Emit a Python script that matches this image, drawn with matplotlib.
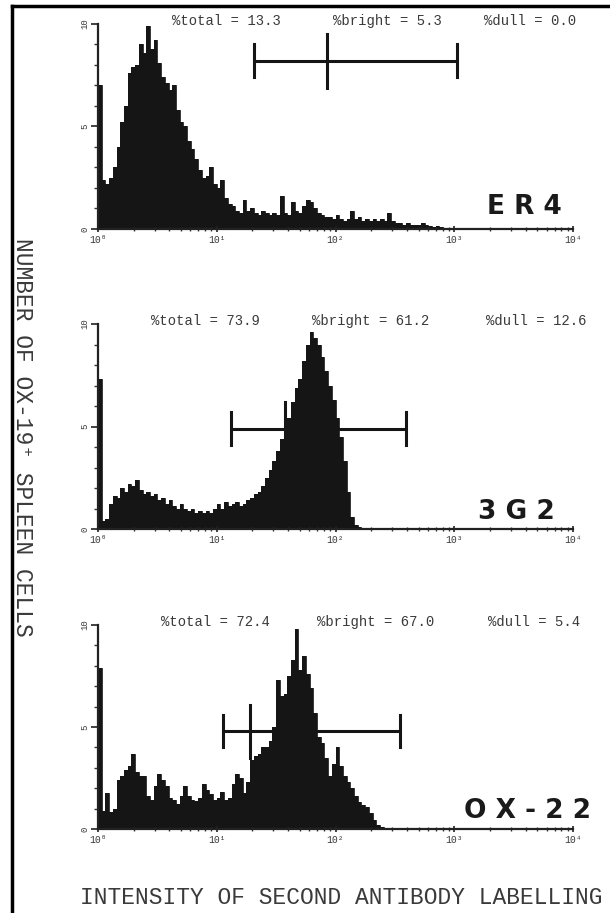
import numpy as np
import matplotlib
matplotlib.use("Agg")
import matplotlib.pyplot as plt
from matplotlib.lines import Line2D
from matplotlib.ticker import MultipleLocator, LogLocator, NullFormatter

plt.rcParams['font.family'] = ['Liberation Mono', 'DejaVu Sans Mono']

# channels per decade of the log amplifier
BINS_PER_DECADE = 32

# cell counts per channel, starting at 10^0
er4_counts = [
    7.0, 2.4, 2.2, 2.5, 3.0, 4.0, 5.2, 6.0, 7.6, 7.9,
    8.0, 9.0, 8.6, 9.9, 8.8, 9.2, 8.1, 7.4, 7.1, 6.8,
    7.0, 5.8, 5.2, 5.0, 4.3, 3.9, 3.4, 2.9, 2.5, 2.6,
    3.0, 2.2, 2.0, 2.4, 1.5, 1.2, 1.1, 0.9, 0.8, 1.4,
    0.9, 1.0, 0.8, 0.7, 0.9, 0.8, 0.7, 0.8, 0.7, 1.6,
    0.8, 0.7, 1.3, 0.9, 0.8, 1.1, 1.4, 1.3, 1.0, 0.8,
    0.7, 0.6, 0.6, 0.5, 0.7, 0.5, 0.4, 0.5, 0.9, 0.5,
    0.6, 0.4, 0.5, 0.4, 0.5, 0.4, 0.5, 0.4, 0.8, 0.4,
    0.3, 0.3, 0.2, 0.3, 0.2, 0.2, 0.2, 0.3, 0.2, 0.15,
    0.1, 0.15, 0.1, 0.05,
]
g32_counts = [
    7.3, 0.4, 0.5, 1.2, 1.6, 1.5, 2.0, 1.8, 2.2, 2.1,
    2.4, 1.9, 1.7, 1.8, 1.6, 1.7, 1.4, 1.5, 1.2, 1.4,
    1.1, 1.0, 1.2, 1.0, 0.9, 1.0, 0.8, 0.9, 0.8, 0.9,
    0.8, 1.0, 1.2, 1.0, 1.3, 1.1, 1.2, 1.3, 1.1, 1.2,
    1.4, 1.5, 1.7, 1.8, 2.1, 2.5, 2.9, 3.3, 3.8, 4.4,
    4.8, 5.4, 6.2, 6.9, 7.3, 8.2, 9.0, 9.6, 9.3, 9.0,
    8.4, 7.7, 7.0, 6.3, 5.4, 4.5, 3.3, 1.8, 0.6, 0.2,
    0.1, 0.05,
]
ox22_counts = [
    7.9, 0.9, 1.75, 0.85, 1.0, 2.4, 2.6, 2.9, 3.1, 3.7,
    2.8, 2.6, 2.6, 1.6, 1.4, 2.1, 2.7, 2.4, 2.1, 1.5,
    1.4, 1.25, 1.6, 2.1, 1.6, 1.4, 1.35, 1.5, 2.2, 1.9,
    1.7, 1.4, 1.5, 1.8, 1.4, 1.5, 2.2, 2.7, 2.5, 1.75,
    2.3, 3.4, 3.6, 3.7, 4.0, 4.0, 4.3, 5.0, 7.3, 6.5,
    6.6, 7.5, 8.3, 9.8, 7.8, 8.5, 7.6, 6.9, 5.7, 4.5,
    4.2, 3.5, 2.6, 3.2, 4.0, 3.1, 2.6, 2.3, 2.0, 1.6,
    1.3, 1.2, 1.1, 0.8, 0.45, 0.2, 0.1, 0.05,
]

panel_counts = [er4_counts, g32_counts, ox22_counts]
panel_names = ["E R 4", "3 G 2", "O X - 2 2"]
pct_total = ["13.3", "73.9", "72.4"]
pct_bright = ["5.3", "61.2", "67.0"]
pct_dull = ["0.0", "12.6", "5.4"]

# gate markers (intensity units, count units)
gate_lo = [20.6, 13.2, 11.3]
gate_hi = [1055, 393, 349]
gate_mid = [84.8, 37.6, 19.1]
gate_y = [8.2, 4.9, 4.8]

xtick_vals = [1, 10, 100, 1000, 10000]
xtick_labels = ["10⁰", "10¹", "10²", "10³", "10⁴"]
ytick_vals = [0, 5, 10]

ink = "#151515"
text_col = "#3a3a3a"

fig = plt.figure(figsize=(6.1, 9.13), dpi=100)

W, H = 610, 913
ax_left, ax_right = 98, 573
panel_px = [(24, 229), (324, 529), (625, 829)]
# header text x positions (pixels, left edge)
head_x = [(172, 333, 484), (151, 312, 486), (161, 317, 488)]
name_pos = [(0.897, 0.107), (0.88, 0.083), (0.905, 0.088)]

for k, (top, bot) in enumerate(panel_px):
    ax = fig.add_axes([ax_left / W, 1 - bot / H, (ax_right - ax_left) / W, (bot - top) / H])
    counts = np.array(panel_counts[k])
    edges = 10 ** (np.arange(len(counts) + 1) / BINS_PER_DECADE)
    ax.stairs(counts, edges, fill=True, color=ink, lw=0)
    ax.stairs(counts, edges, color=ink, lw=0.6)

    ax.set_xscale('log')
    ax.set_xlim(1, 1e4)
    ax.set_ylim(0, 10)
    for s in ['top', 'right']:
        ax.spines[s].set_visible(False)
    for s in ['left', 'bottom']:
        ax.spines[s].set_linewidth(1.6)
        ax.spines[s].set_color('#222222')

    ax.set_xticks(xtick_vals, xtick_labels)
    ax.xaxis.set_minor_locator(LogLocator(base=10, subs=np.arange(2, 10)))
    ax.xaxis.set_minor_formatter(NullFormatter())
    ax.set_yticks(ytick_vals, [str(v) for v in ytick_vals])
    ax.yaxis.set_minor_locator(MultipleLocator(1))
    ax.tick_params(axis='x', which='major', direction='inout', length=5, width=1.2,
                   labelsize=7, pad=2, colors='#222222', labelcolor=text_col)
    ax.tick_params(axis='x', which='minor', direction='inout', length=3, width=1.0, colors='#333333')
    ax.tick_params(axis='y', which='major', direction='out', length=5, width=1.2,
                   labelsize=6.5, pad=1, labelrotation=90, colors='#222222', labelcolor=text_col)
    ax.tick_params(axis='y', which='minor', direction='out', length=3, width=1.0, colors='#333333')
    for lab in ax.get_yticklabels():
        lab.set_va('center')

    # gate bar
    y = gate_y[k]
    ax.plot([gate_lo[k], gate_hi[k]], [y, y], color=ink, lw=2.2, solid_capstyle='butt')
    ax.plot([gate_lo[k], gate_lo[k]], [y - 0.8, y + 0.8], color=ink, lw=2.2)
    ax.plot([gate_hi[k], gate_hi[k]], [y - 0.8, y + 0.8], color=ink, lw=2.2)
    ax.plot([gate_mid[k], gate_mid[k]], [y - 1.3, y + 1.3], color=ink, lw=2.2)

    # header
    hx = head_x[k]
    hy = 1 - (top - 3) / H
    fig.text(hx[0] / W, hy, "%total = " + pct_total[k], fontsize=10, color=text_col, va='center')
    fig.text(hx[1] / W, hy, "%bright = " + pct_bright[k], fontsize=10, color=text_col, va='center')
    fig.text(hx[2] / W, hy, "%dull = " + pct_dull[k], fontsize=10, color=text_col, va='center')

    ax.text(name_pos[k][0], name_pos[k][1], panel_names[k], transform=ax.transAxes,
            ha='center', va='center', fontsize=19, fontweight='bold',
            family='DejaVu Sans', color='#1a1a1a')

fig.text(22 / W, 1 - 437 / H, "NUMBER OF OX-19⁺ SPLEEN CELLS", rotation=-90,
         ha='center', va='center', fontsize=16.5, color=text_col)
fig.text(80 / W, 1 - 897 / H, "INTENSITY OF SECOND ANTIBODY LABELLING",
         ha='left', va='center', fontsize=16.5, color=text_col)

# scanned page frame (left and top edges)
fig.add_artist(Line2D([12 / W, 12 / W], [0, 1 - 6 / H], color='black', lw=2.5))
fig.add_artist(Line2D([12 / W, 1], [1 - 6 / H, 1 - 6 / H], color='black', lw=2.5))

fig.savefig("out.png", dpi=100)
